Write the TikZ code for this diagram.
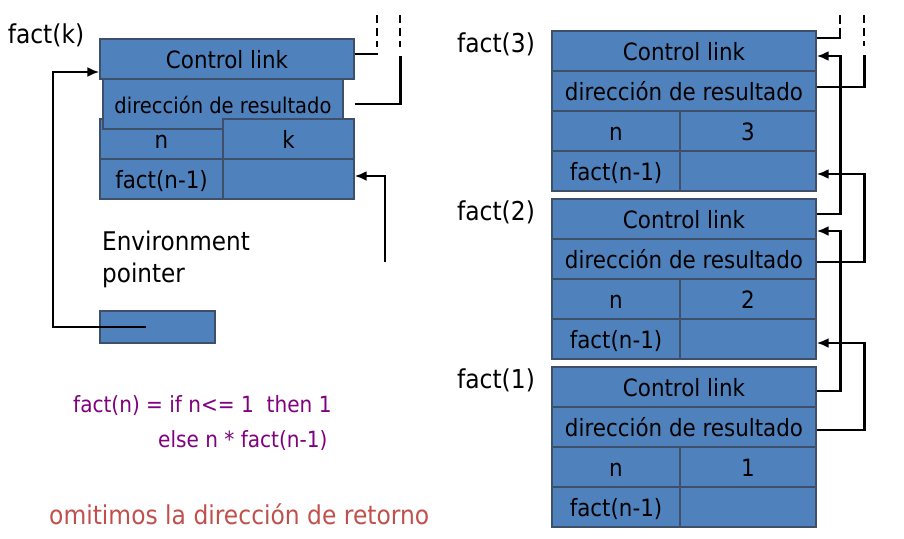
\documentclass[tikz,border=0pt]{standalone}
\usepackage{fontspec}
\setmainfont{DejaVu Sans}[FakeStretch=0.9]
\usetikzlibrary{arrows.meta,calc}
\definecolor{cellblue}{HTML}{4F81BD}
\definecolor{cellline}{HTML}{3E5069}
\definecolor{codepurple}{HTML}{800080}
\definecolor{notered}{HTML}{C0504D}
\begin{document}
\begin{tikzpicture}[x=1pt,y=-1pt,
  cell/.style={draw=cellline,fill=cellblue,line width=1.4pt,inner sep=0pt,minimum height=40pt,
    text height=21pt,text depth=2pt,font=\fontsize{23.8}{28}\selectfont},
  link/.style={line width=2.5pt,black},
  arr/.style={link,-{Latex[length=12pt,width=10pt]}},
  dashlink/.style={link,dash pattern=on 8pt off 5pt},
  lbl/.style={inner sep=0pt,font=\fontsize{26}{30}\selectfont}]
\useasboundingbox (0,0) rectangle (904,538);
\fill[white] (0,0) rectangle (904,538);

% ---- left frame fact(k)
\node[lbl] (labk) at (46,35) {fact(k)};
\node[cell,minimum width=123pt] (ln) at (161.5,139) {n};
\node[cell,minimum width=240pt,minimum height=50pt,font=\fontsize{21.7}{26}\selectfont] (ldir) at (223,104) {dirección de resultado};
\node[cell,minimum width=131pt] (lk) at (288.5,139) {k};
\node[cell,minimum width=254pt] (lcl) at (227,59) {Control link};
\node[cell,minimum width=123pt] (lf) at (161.5,179) {fact(n-1)};
\node[cell,minimum width=131pt] (lfv) at (288.5,179) {};

\node[lbl,align=left,anchor=west,font=\fontsize{25.7}{32}\selectfont] (env) at (102,259) {Environment\\pointer};
\node[cell,minimum width=115pt,minimum height=32pt] (lep) at (157.5,327) {};

\coordinate (epin) at (146,327);
\draw[arr] (epin) -| (53,72) -- ([yshift=-13pt]lcl.west);
\coordinate (kin) at (385,262);
\draw[arr] (kin) |- ([yshift=3pt]lfv.east);

\coordinate (lt1) at (377,15);
\coordinate (lt2) at (400,15);
\draw[link] ([yshift=5pt]lcl.east) -- ++(23,0);
\draw[dashlink] (lt1) -- ++(0,32);
\draw[link] (lcl.east |- ldir.east) -- ++(46,0) -- ++(0,-48);
\draw[dashlink] (lt2) -- ++(0,32);

% ---- right frames
\foreach \i/\t in {3/31, 2/199, 1/367} {
  \node[lbl] (lab\i) at (496,\t+13) {fact(\i)};
  \node[cell,minimum width=264pt] (c\i) at (684,\t+20) {Control link};
  \node[cell,minimum width=264pt] (d\i) at (684,\t+60) {dirección de resultado};
  \node[cell,minimum width=128pt] (n\i) at (616,\t+100) {n};
  \node[cell,minimum width=136pt] (v\i) at (748,\t+100) {\i};
  \node[cell,minimum width=128pt] (f\i) at (616,\t+140) {fact(n-1)};
  \node[cell,minimum width=136pt] (g\i) at (748,\t+140) {};
}

\coordinate (rt1) at (840,15);
\coordinate (rt2) at (864,15);
\draw[link] ([yshift=13pt]c3.east) -- ++(24,0);
\draw[link,dash pattern=on 9pt off 4pt] (rt1) -- ++(0,22);
\draw[link] ([yshift=4pt]d3.east) -- ++(48,0) -- ++(0,-32);
\draw[dashlink] (rt2) -- ++(0,31);
\draw[arr] ([yshift=5pt]c2.east) -- ++(24,0) |- ([yshift=-5pt]c3.east);
\draw[arr] ([yshift=-3pt]d2.east) -- ++(48,0) |- ([yshift=-3pt]g3.east);
\draw[arr] ([yshift=-4pt]c1.east) -- ++(24,0) |- ([yshift=-12pt]c2.east);
\draw[arr] ([yshift=-3pt]d1.east) -- ++(48,0) |- ([yshift=-4pt]g2.east);

% ---- texts
\node[inner sep=0pt,anchor=west,text=codepurple,font=\fontsize{22.3}{26}\selectfont] (def1) at (73,405) {fact(n) = if n<= 1\ \ then 1};
\node[inner sep=0pt,anchor=west,text=codepurple,font=\fontsize{22.3}{26}\selectfont] (def2) at (158,440) {else n * fact(n-1)};
\node[inner sep=0pt,anchor=west,text=notered,font=\fontsize{26}{30}\selectfont] (note) at (49,514) {omitimos la dirección de retorno};
\end{tikzpicture}
\end{document}
